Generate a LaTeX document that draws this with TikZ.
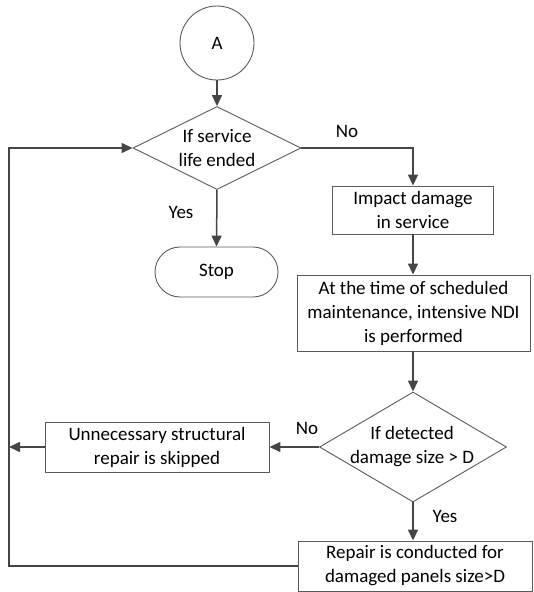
\documentclass[tikz,border=0pt]{standalone}
\usepackage{fontspec}
\setmainfont{Carlito}
\usetikzlibrary{shapes.geometric,arrows.meta}
\definecolor{linec}{HTML}{454545}
\definecolor{boxc}{HTML}{5A5A5A}
\begin{document}
\begin{tikzpicture}[x=1pt,y=-1pt,
  font=\fontsize{19}{24}\selectfont,
  box/.style={draw=boxc,line width=0.9pt,rectangle,inner sep=0pt,align=center},
  diam/.style={draw=boxc,line width=0.9pt,diamond,inner sep=0pt},
  txt/.style={inner sep=0pt,align=center},
  conn/.style={draw=linec,line width=1.5pt,-{Triangle[length=11pt,width=10pt]}},
  plain/.style={draw=linec,line width=1.5pt}]
\useasboundingbox (0,0) rectangle (534,592);
\node[draw=boxc,line width=0.9pt,circle,minimum size=74pt,inner sep=0pt] (A) at (217,43) {A};
\node[diam,minimum width=168pt,minimum height=83pt] (d1) at (217,148) {};
\node[txt] (d1t) at (217,148) {If service\\life ended};
\node[box,minimum width=161pt,minimum height=48pt] (b2) at (413,210) {Impact damage\\in service};
\node[box,minimum width=233pt,minimum height=76pt] (b3) at (413.5,313) {At the time of scheduled\\maintenance, intensive NDI\\is performed};
\node[draw=boxc,line width=0.9pt,rectangle,rounded corners=25pt,minimum width=123pt,minimum height=50pt,inner sep=0pt] (stop) at (216.5,272) {Stop};
\node[diam,minimum width=187pt,minimum height=110pt] (d2) at (413,447) {};
\node[txt] (d2t) at (412,447) {If detected\\damage size > D};
\node[box,minimum width=224pt,minimum height=50pt] (un) at (157,447) {Unnecessary structural\\repair is skipped};
\node[box,minimum width=234pt,minimum height=50pt] (rep) at (415,566) {Repair is conducted for\\damaged panels size>D};
\coordinate (lb) at (9,566);
\coordinate (lt) at (9,148);
\node[txt] (no1) at (347,131) {No};
\node[txt] (yes1) at (181,212) {Yes};
\node[txt] (no2) at (307,428) {No};
\node[txt] (yes2) at (445,516) {Yes};
\draw[conn] (A.south) -- (d1.north);
\draw[conn] (d1.east) -| (b2.north);
\draw[conn] (d1.south) -- (stop.north);
\draw[conn] (b2.south) -- (b2.south |- b3.north);
\draw[conn] (b3.south -| d2.north) -- (d2.north);
\draw[conn] (d2.west) -- (un.east);
\draw[conn] (un.west) -- (un.west -| lt);
\draw[conn] (d2.south) -- (d2.south |- rep.north);
\draw[conn] (rep.west) -- (lb) -- (lt) -- (d1.west);
\end{tikzpicture}
\end{document}
